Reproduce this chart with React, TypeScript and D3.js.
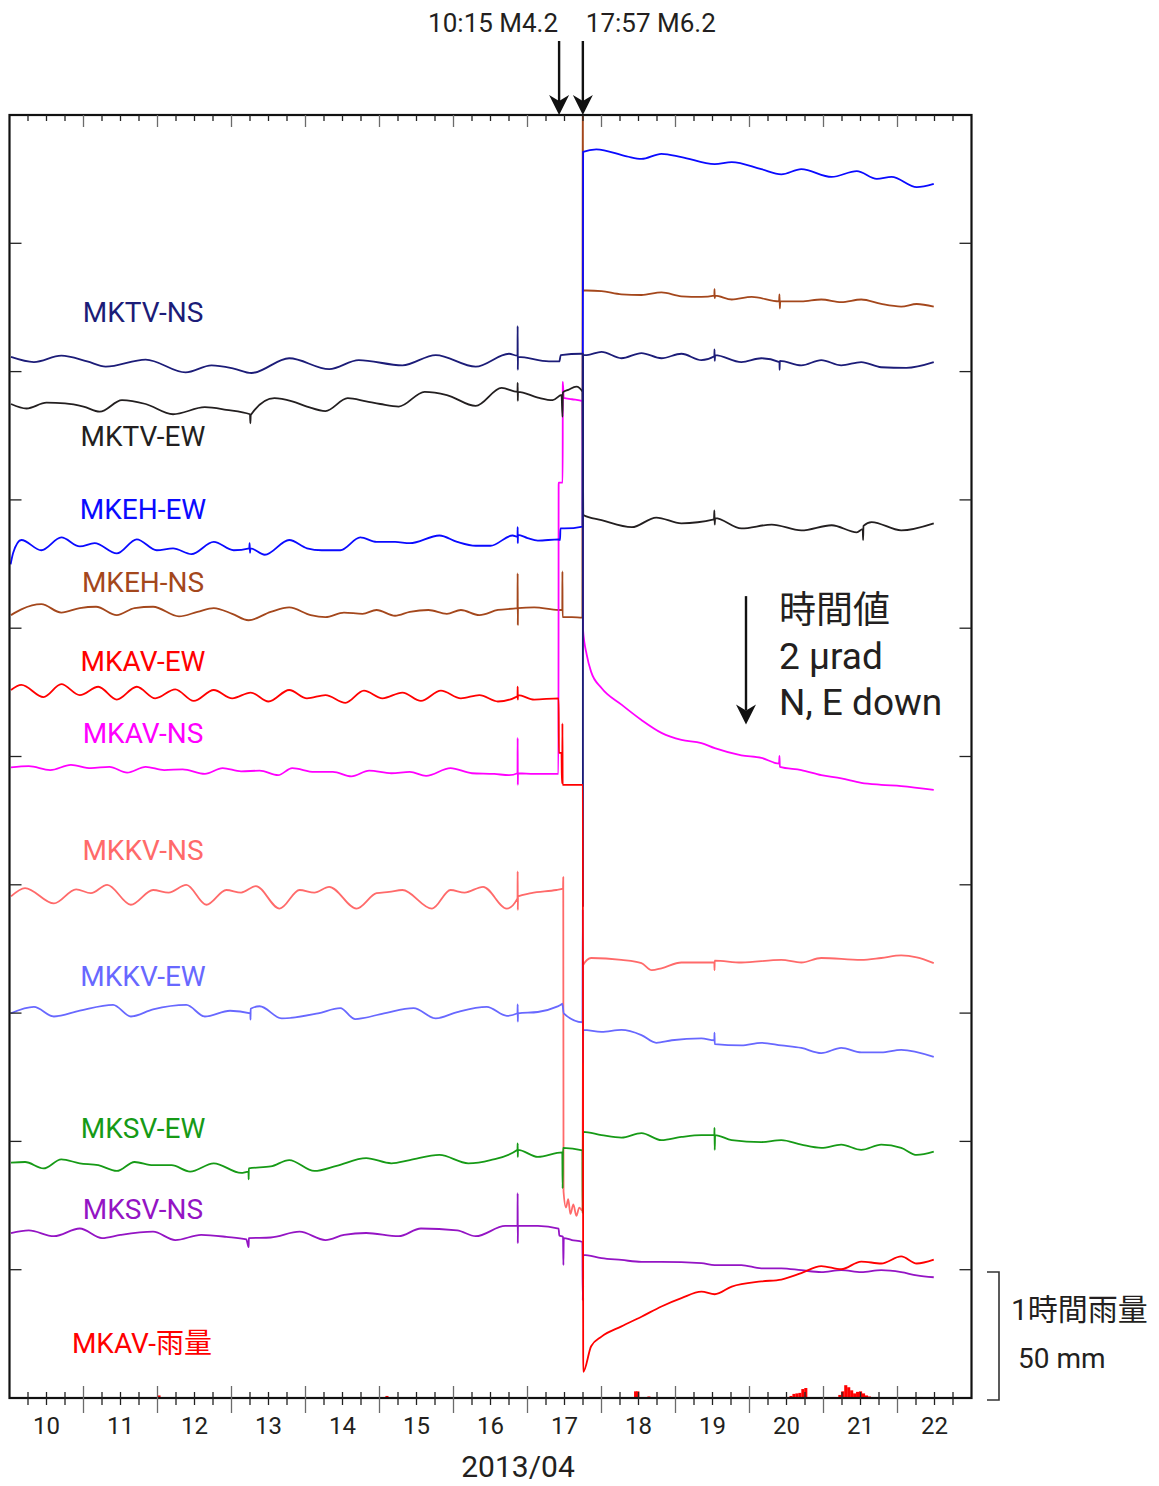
import * as d3 from 'd3'

type Pt = [number, number]

// time: fractional day of April 2013; value: tilt in μrad relative to the trace offset (N, E down)
const MKTV_NS: Pt[] = [
  [10.02, 0], [10.33, 0.08], [10.70, -0.02], [11.05, 0.07], [11.30, 0.15], [11.84, 0.04], [12.38, 0.24],
  [12.73, 0.13], [13.03, 0.18], [13.27, 0.25], [13.78, 0.02], [14.32, 0.19], [14.72, 0.05], [15.31, 0.13],
  [15.76, -0.03], [16.30, 0.15], [16.75, -0.05], [16.865, -0.02], [16.867, -0.48], [16.869, 0.2], [16.871, 0],
  [17.29, 0.07], [17.43, 0.07], [17.45, -0.03], [17.73, -0.05],
  [17.747, -0.05], [17.749, 8.56], [17.751, -0.03],
  [17.80, -0.03], [18.00, -0.08], [18.27, 0.02], [18.54, -0.06], [18.81, 0.02], [19.08, -0.05], [19.35, 0.05],
  [19.525, -0.01], [19.527, -0.12], [19.53, 0.06], [19.535, -0.03], [19.89, 0.08], [20.16, 0.02],
  [20.405, 0.08], [20.407, 0.2], [20.41, 0.06], [20.70, 0.13], [20.97, 0.05], [21.24, 0.13], [21.51, 0.08],
  [21.78, 0.16], [22.12, 0.17], [22.49, 0.08],
]

const MKTV_EW: Pt[] = [
  [10.02, 0], [10.23, 0.07], [10.50, -0.02], [10.75, -0.01], [11.00, 0.04], [11.22, 0.12], [11.52, -0.06],
  [11.84, 0], [12.21, 0.16], [12.64, 0.05], [12.93, 0.09], [13.25, 0.16], [13.255, 0.3], [13.26, 0.17],
  [13.58, -0.09], [13.82, -0.04], [14.02, 0.04], [14.27, 0.11], [14.57, -0.09], [14.82, -0.04], [15.01, 0],
  [15.26, 0.04], [15.61, -0.19], [15.91, -0.14], [16.30, 0.03], [16.65, -0.25], [16.865, -0.19],
  [16.867, -0.33], [16.869, -0.05], [16.871, -0.19], [17.14, -0.10], [17.34, -0.06], [17.46, -0.14],
  [17.473, 0.2], [17.478, -0.18], [17.55, -0.22], [17.66, -0.27], [17.745, -0.19],
  [17.753, 1.73], [18.00, 1.81], [18.41, 1.92], [18.74, 1.77], [19.08, 1.86], [19.52, 1.8], [19.525, 1.66],
  [19.53, 1.88], [19.535, 1.78], [19.89, 1.94], [20.30, 1.88], [20.70, 1.97], [21.11, 1.89], [21.45, 2.0],
  [21.53, 1.95], [21.535, 2.12], [21.54, 1.9], [21.65, 1.84], [22.05, 1.97], [22.49, 1.86],
]

const MKEH_EW: Pt[] = [
  [10.015, 0.38], [10.05, 0.2], [10.16, 0], [10.43, 0.16], [10.70, -0.04], [10.95, 0.10], [11.15, 0.05],
  [11.45, 0.21], [11.72, -0.01], [11.99, 0.16], [12.21, 0.13], [12.46, 0.22], [12.76, 0.03], [13.03, 0.16],
  [13.24, 0.13], [13.245, 0.05], [13.25, 0.2], [13.255, 0.13], [13.45, 0.23], [13.78, 0], [14.02, 0.13],
  [14.22, 0.16], [14.47, 0.16], [14.74, -0.04], [14.96, 0.03], [15.21, 0.03], [15.41, 0.05], [15.81, -0.07],
  [16.05, 0.03], [16.30, 0.09], [16.50, 0.09], [16.80, -0.07], [16.865, -0.05], [16.867, -0.2],
  [16.869, 0.05], [16.871, -0.08], [17.00, -0.03], [17.14, 0.01], [17.42, -0.01], [17.44, 0],
  [17.445, -0.18], [17.50, -0.18], [17.744, -0.21],
  [17.752, -6.05], [17.93, -6.09], [18.34, -5.98], [18.54, -5.94], [18.81, -6.02], [19.08, -5.97],
  [19.53, -5.86], [19.76, -5.89], [20.16, -5.78], [20.43, -5.70], [20.70, -5.78], [21.11, -5.66],
  [21.45, -5.75], [21.72, -5.63], [21.92, -5.66], [22.26, -5.50], [22.49, -5.55],
]

const MKEH_NS: Pt[] = [
  [10.02, 0.08], [10.16, -0.01], [10.43, -0.09], [10.70, 0.04], [10.95, -0.03], [11.17, -0.05], [11.45, 0.08],
  [11.69, -0.03], [11.94, -0.05], [12.29, 0.10], [12.54, 0.03], [12.76, -0.03], [13.01, 0.06], [13.23, 0.16],
  [13.53, 0.03], [13.78, -0.04], [14.07, 0.08], [14.27, 0.11], [14.52, 0.04], [14.77, 0.06], [14.96, 0],
  [15.21, 0.09], [15.41, 0.03], [15.66, 0], [15.91, 0.06], [16.10, 0], [16.35, 0.08], [16.60, 0],
  [16.865, -0.03], [16.867, -0.57], [16.869, 0.23], [16.871, -0.03], [17.09, -0.04], [17.42, 0],
  [17.47, 0], [17.472, -0.6], [17.474, 0.11], [17.60, 0.11], [17.742, 0.12],
  [17.746, -9.5], [17.752, -4.98], [17.80, -4.98], [18.00, -4.97], [18.27, -4.92], [18.54, -4.91],
  [18.81, -4.95], [19.08, -4.89], [19.35, -4.88], [19.525, -4.9], [19.527, -5.0], [19.53, -4.86],
  [19.535, -4.9], [19.76, -4.84], [20.03, -4.88], [20.40, -4.81], [20.405, -4.92], [20.41, -4.7],
  [20.415, -4.81], [20.70, -4.81], [20.97, -4.84], [21.24, -4.80], [21.51, -4.84], [21.78, -4.77],
  [22.05, -4.73], [22.26, -4.77], [22.49, -4.73],
]

const MKAV_EW: Pt[] = [
  [10.02, 0], [10.16, -0.08], [10.46, 0.11], [10.70, -0.09], [10.95, 0.08], [11.20, -0.05], [11.45, 0.15],
  [11.72, -0.05], [11.97, 0.13], [12.24, -0.01], [12.49, 0.17], [12.76, 0], [13.01, 0.13], [13.26, 0.04],
  [13.50, 0.18], [13.78, 0], [14.02, 0.13], [14.27, 0.08], [14.54, 0.20], [14.79, 0.01], [15.04, 0.13],
  [15.31, 0.04], [15.56, 0.17], [15.83, 0.01], [16.10, 0.13], [16.35, 0.08], [16.60, 0.18], [16.865, 0.1],
  [16.867, -0.05], [16.869, 0.15], [16.871, 0.08], [17.09, 0.15], [17.42, 0.13],
  [17.425, 0.98], [17.46, 0.98], [17.465, 1.45], [17.47, 1.45], [17.472, 0.52], [17.475, 1.48], [17.748, 1.48],
  [17.753, 10.63], [17.86, 10.23], [18.00, 10.08], [18.27, 9.92], [18.54, 9.77], [18.81, 9.61], [19.08, 9.48],
  [19.35, 9.38], [19.53, 9.42], [19.76, 9.30], [20.16, 9.22], [20.43, 9.19], [20.70, 9.09], [20.97, 8.98],
  [21.24, 9.03], [21.51, 8.91], [21.78, 8.94], [22.05, 8.83], [22.26, 8.94], [22.49, 8.88],
]

const MKAV_NS: Pt[] = [
  [10.02, -0.04], [10.26, -0.06], [10.55, 0], [10.83, -0.08], [11.10, -0.03], [11.35, -0.05], [11.59, 0.04],
  [11.84, -0.05], [12.09, 0], [12.34, -0.01], [12.64, 0.06], [12.88, -0.03], [13.13, 0.02], [13.38, 0.01],
  [13.63, 0.08], [13.82, -0.03], [14.12, 0.03], [14.37, 0.03], [14.62, 0.10], [14.86, 0.01], [15.16, 0.05],
  [15.41, 0.03], [15.63, 0.09], [15.96, -0.03], [16.25, 0.05], [16.55, 0.06], [16.75, 0.08], [16.865, 0.05],
  [16.867, -0.5], [16.869, 0.23], [16.871, 0.05], [17.09, 0.06], [17.418, 0.06],
  [17.421, -4.48], [17.475, -4.48], [17.477, -6.05], [17.49, -5.8], [17.60, -5.78], [17.745, -5.75],
  [17.75, -2.19], [17.80, -1.80], [17.86, -1.53], [18.00, -1.28], [18.27, -1.02], [18.54, -0.78],
  [18.81, -0.58], [19.08, -0.47], [19.35, -0.42], [19.53, -0.34], [19.89, -0.23], [20.16, -0.19],
  [20.40, -0.1], [20.405, -0.22], [20.41, -0.05], [20.70, 0], [20.97, 0.08], [21.24, 0.13], [21.51, 0.20],
  [21.78, 0.23], [22.05, 0.25], [22.49, 0.31],
]

const MKKV_NS: Pt[] = [
  [10.02, 0.10], [10.21, -0.03], [10.60, 0.21], [10.90, -0.01], [11.10, 0.05], [11.32, -0.08], [11.64, 0.23],
  [11.94, 0], [12.15, 0.04], [12.39, -0.08], [12.66, 0.23], [12.93, 0], [13.13, 0.04], [13.33, -0.06],
  [13.65, 0.29], [13.92, 0], [14.12, 0.04], [14.32, -0.05], [14.69, 0.29], [14.96, 0.05], [15.13, 0.03],
  [15.31, 0], [15.71, 0.29], [15.96, 0], [16.15, 0.04], [16.40, -0.05], [16.72, 0.29], [16.865, 0.13],
  [16.867, -0.29], [16.869, 0.31], [16.871, 0.10], [17.05, 0.05], [17.39, 0], [17.48, -0.02],
  [17.483, -0.2], [17.487, 4.7], [17.52, 4.95], [17.55, 4.82], [17.58, 5.05], [17.62, 4.9], [17.66, 5.08],
  [17.70, 4.95], [17.743, 5.0],
  [17.752, 1.17], [17.86, 1.06], [18.27, 1.09], [18.54, 1.14], [18.68, 1.25], [18.81, 1.22], [19.08, 1.13],
  [19.525, 1.13], [19.527, 1.25], [19.53, 1.1], [19.89, 1.13], [20.43, 1.09], [20.70, 1.13], [20.97, 1.06],
  [21.51, 1.09], [21.78, 1.06], [22.05, 1.02], [22.26, 1.05], [22.49, 1.14],
]

const MKKV_EW: Pt[] = [
  [10.02, 0.02], [10.33, -0.08], [10.60, 0.07], [10.95, -0.02], [11.40, -0.11], [11.64, 0.07], [11.94, -0.04],
  [12.39, -0.11], [12.64, 0.07], [12.98, -0.02], [13.255, 0.02], [13.257, 0.12], [13.259, -0.05],
  [13.38, -0.09], [13.68, 0.10], [14.17, 0.02], [14.47, -0.06], [14.67, 0.11], [15.06, 0.02], [15.46, -0.06],
  [15.76, 0.10], [16.05, 0], [16.45, -0.08], [16.72, 0.06], [16.865, 0.02], [16.867, -0.12], [16.869, 0.15],
  [16.871, 0.02], [17.14, 0], [17.39, -0.08], [17.46, -0.12], [17.47, -0.13], [17.49, 0.02], [17.743, 0.16],
  [17.747, -1.6], [17.75, 0.8], [17.753, 0.28], [18.00, 0.31], [18.27, 0.28], [18.54, 0.36], [18.74, 0.48],
  [18.95, 0.44], [19.35, 0.41], [19.525, 0.44], [19.527, 0.32], [19.53, 0.5], [19.89, 0.52], [20.16, 0.48],
  [20.43, 0.52], [20.70, 0.56], [20.97, 0.64], [21.24, 0.56], [21.51, 0.63], [21.78, 0.63], [22.05, 0.59],
  [22.49, 0.70],
]

const MKSV_EW: Pt[] = [
  [10.02, 0.01], [10.21, 0], [10.46, 0.10], [10.70, -0.04], [10.95, 0.02], [11.20, 0.05], [11.45, 0.14],
  [11.69, 0], [11.94, 0.05], [12.19, 0.05], [12.44, 0.15], [12.76, 0.02], [13.13, 0.17], [13.23, 0.15],
  [13.232, 0.27], [13.234, 0.1], [13.53, 0.07], [13.78, -0.03], [14.12, 0.14], [14.42, 0.06], [14.82, -0.06],
  [15.16, 0.02], [15.41, -0.03], [15.81, -0.11], [16.20, 0.02], [16.50, -0.03], [16.865, -0.19],
  [16.867, -0.29], [16.869, -0.08], [16.871, -0.19], [17.14, -0.08], [17.47, -0.15], [17.475, 0.41],
  [17.48, -0.22], [17.742, -0.18],
  [17.746, 0.8], [17.752, -0.47], [18.00, -0.42], [18.27, -0.38], [18.54, -0.45], [18.81, -0.34],
  [19.08, -0.39], [19.35, -0.42], [19.525, -0.42], [19.527, -0.53], [19.53, -0.19], [19.535, -0.42],
  [19.76, -0.34], [20.16, -0.31], [20.43, -0.34], [20.70, -0.27], [20.97, -0.22], [21.24, -0.27],
  [21.51, -0.19], [21.78, -0.27], [22.05, -0.22], [22.26, -0.11], [22.49, -0.16],
]

const MKSV_NS: Pt[] = [
  [10.02, 0], [10.26, -0.04], [10.60, 0.05], [10.95, -0.07], [11.25, 0.08], [11.50, 0.03], [11.94, -0.02],
  [12.24, 0.11], [12.59, 0.03], [12.93, 0.06], [13.20, 0.10], [13.232, 0.22], [13.234, 0.08], [13.53, 0.07],
  [13.92, -0.02], [14.27, 0.11], [14.52, 0.03], [14.82, 0], [15.26, 0.05], [15.56, -0.07], [16.05, -0.04],
  [16.30, 0.05], [16.70, -0.11], [16.865, -0.11], [16.867, -0.62], [16.869, 0.16], [16.871, -0.11],
  [17.14, -0.11], [17.42, -0.07], [17.43, 0.04], [17.48, 0.06], [17.485, 0.5], [17.49, 0.08], [17.60, 0.11],
  [17.742, 0.14],
  [17.747, 1.05], [17.753, 0.34], [18.00, 0.39], [18.27, 0.42], [18.54, 0.45], [18.81, 0.45], [19.35, 0.47],
  [19.53, 0.50], [19.89, 0.50], [20.16, 0.55], [20.43, 0.55], [20.70, 0.58], [20.97, 0.61], [21.24, 0.58],
  [21.51, 0.61], [21.78, 0.58], [22.05, 0.61], [22.26, 0.66], [22.49, 0.69],
]

// hourly rainfall at MKAV (mm)
const RAIN: Pt[] = [
  [12.0, 1.0], [14.74, 0.4], [15.08, 0.8], [15.16, 0.4], [18.44, 2.6], [18.47, 2.6], [18.62, 0.6],
  [20.54, 0.8], [20.58, 1.6], [20.62, 1.8], [20.66, 2.0], [20.70, 3.5], [20.74, 3.9], [21.12, 0.4],
  [21.20, 1.2], [21.24, 2.6], [21.28, 5.0], [21.32, 4.2], [21.36, 3.0], [21.40, 1.8], [21.44, 2.4],
  [21.48, 2.6], [21.52, 1.8], [21.56, 1.0], [21.60, 0.6], [22.30, 0.4],
]

const TRACE_NAMES = ['MKTV-NS', 'MKTV-EW', 'MKEH-EW', 'MKEH-NS', 'MKAV-EW', 'MKAV-NS', 'MKKV-NS', 'MKKV-EW', 'MKSV-EW', 'MKSV-NS']
const TRACE_DATA = [MKTV_NS, MKTV_EW, MKEH_EW, MKEH_NS, MKAV_EW, MKAV_NS, MKKV_NS, MKKV_EW, MKSV_EW, MKSV_NS]
// μrad below the top of the frame
const TRACE_OFFSETS = [3.772, 4.505, 6.625, 7.716, 8.963, 10.211, 12.081, 13.983, 16.321, 17.428]

const DAY_LABELS = ['10', '11', '12', '13', '14', '15', '16', '17', '18', '19', '20', '21', '22']
const QUAKE_TIMES = [17.427, 17.748]
const QUAKE_LABELS = ['10:15 M4.2', '17:57 M6.2']

const COLORS = ['#1c1c78', '#231f20', '#0a0aff', '#a4471c', '#ff0000', '#ff00ff', '#ff6a6a', '#6868ff', '#169a16', '#9414c4']
const LABEL_Y = [322, 446, 519, 592, 671, 743, 860, 986, 1138, 1219]
const DRAW_ORDER = [3, 5, 2, 1, 6, 8, 9, 0, 7, 4]

const W = 1159
const H = 1486
const LATIN = 'Roboto, "Liberation Sans", sans-serif'
const CJK = 'Roboto, "Noto Sans CJK JP", sans-serif'
const INK = '#231f20'

function arrowHead(x: number, tip: number) {
  return `M${x},${tip} L${x - 10},${tip - 20} L${x},${tip - 14} L${x + 10},${tip - 20} Z`
}

export default function App() {
  const x = d3.scaleLinear().domain([10, 23]).range([9.5, 971.5])
  const y = d3.scaleLinear().domain([0, 20]).range([115, 1398])
  const rainY = d3.scaleLinear().domain([0, 50]).range([1398, 1270])

  const [x0, x1] = x.range()
  const [y0, y1] = y.range()

  const ticks = d3.range(10.25, 23, 0.25)
  const isDay = (t: number) => Math.abs(t - Math.round(t)) < 1e-6

  const lineFor = (off: number) =>
    d3.line<Pt>()
      .x((d) => x(d[0]))
      .y((d) => y(off + d[1]))
      .curve(d3.curveMonotoneX)

  const hour = 1 / 24
  const scaleTop = 7.5

  return (
    <div style={{ position: 'absolute', left: 0, top: 0 }}>
      <svg width={W} height={H} style={{ display: 'block', background: '#fff' }}>
        <defs>
          <clipPath id="plot">
            <rect x={x0} y={y0} width={x1 - x0} height={y1 - y0} />
          </clipPath>
        </defs>

        {/* rainfall bars */}
        <g clipPath="url(#plot)">
          {RAIN.map(([t, mm], i) => (
            <rect key={i} x={x(t)} y={rainY(mm)} width={x(t + hour) - x(t)} height={rainY(0) - rainY(mm)} fill="#ff0000" />
          ))}
        </g>

        {/* tilt traces */}
        <g clipPath="url(#plot)" fill="none" strokeWidth={1.8} strokeLinejoin="round">
          {DRAW_ORDER.map((i) => (
            <path key={i} d={lineFor(TRACE_OFFSETS[i])(TRACE_DATA[i]) ?? ''} stroke={COLORS[i]} />
          ))}
        </g>

        {/* frame */}
        <rect x={x0} y={y0} width={x1 - x0} height={y1 - y0} fill="none" stroke="#111" strokeWidth={2.2} />

        {/* top ticks */}
        {ticks.map((t) => (
          <line key={'tt' + t} x1={x(t)} x2={x(t)} y1={y0} y2={y0 + (isDay(t) ? 12 : 6)}
            stroke={isDay(t) ? '#6b6b6b' : '#222'} strokeWidth={1.3} />
        ))}
        {/* bottom ticks */}
        {ticks.map((t) => (
          <line key={'bt' + t} x1={x(t)} x2={x(t)} y1={y1 - (isDay(t) ? 12 : 6)} y2={y1 + (isDay(t) ? 15 : 7)}
            stroke={isDay(t) ? '#6b6b6b' : '#222'} strokeWidth={1.3} />
        ))}
        {/* side ticks */}
        {d3.range(2, 20, 2).map((v) => (
          <g key={'yt' + v}>
            <line x1={x0} x2={x0 + 12} y1={y(v)} y2={y(v)} stroke="#222" strokeWidth={1.3} />
            <line x1={x1} x2={x1 - 12} y1={y(v)} y2={y(v)} stroke="#222" strokeWidth={1.3} />
          </g>
        ))}

        {/* day labels */}
        {DAY_LABELS.map((s) => (
          <text key={s} x={x(+s + 0.5)} y={1434} textAnchor="middle" fontFamily={LATIN} fontSize={24} fill={INK}>{s}</text>
        ))}
        <text x={518} y={1477} textAnchor="middle" fontFamily={LATIN} fontSize={30} fill={INK}>2013/04</text>

        {/* earthquake markers */}
        {QUAKE_TIMES.map((t, i) => (
          <g key={'q' + i}>
            <line x1={x(t)} x2={x(t)} y1={41} y2={y0 - 14} stroke="#111" strokeWidth={2.4} />
            <path d={arrowHead(x(t), y0)} fill="#111" />
            <text x={i === 0 ? x(t) - 1 : x(t) + 3} y={32} textAnchor={i === 0 ? 'end' : 'start'}
              fontFamily={LATIN} fontSize={26} fill={INK}>{QUAKE_LABELS[i]}</text>
          </g>
        ))}

        {/* trace labels */}
        {TRACE_NAMES.map((n, i) => (
          <text key={n} x={143} y={LABEL_Y[i]} textAnchor="middle" fontFamily={LATIN} fontSize={28} fill={COLORS[i]}>{n}</text>
        ))}
        <text x={142} y={1353} textAnchor="middle" fontFamily={CJK} fontSize={28} fill="#ff0000">MKAV-雨量</text>

        {/* tilt scale */}
        <line x1={746} x2={746} y1={y(scaleTop)} y2={y(scaleTop + 2) - 14} stroke="#111" strokeWidth={2.4} />
        <path d={arrowHead(746, y(scaleTop + 2))} fill="#111" />
        <text x={779} y={623} fontFamily={CJK} fontSize={37} fill={INK}>時間値</text>
        <text x={779} y={669} fontFamily={LATIN} fontSize={37} fill={INK}>2 μrad</text>
        <text x={779} y={715} fontFamily={LATIN} fontSize={37} fill={INK}>N, E down</text>

        {/* rainfall scale */}
        <path d={`M987,${rainY(50) + 2} H999 V${rainY(0) + 2} H987`} fill="none" stroke="#333" strokeWidth={1.6} />
        <text x={1011} y={1320} fontFamily={CJK} fontSize={30} fill={INK}>1時間雨量</text>
        <text x={1018} y={1368} fontFamily={LATIN} fontSize={28} fill={INK}>50 mm</text>
      </svg>
    </div>
  )
}
